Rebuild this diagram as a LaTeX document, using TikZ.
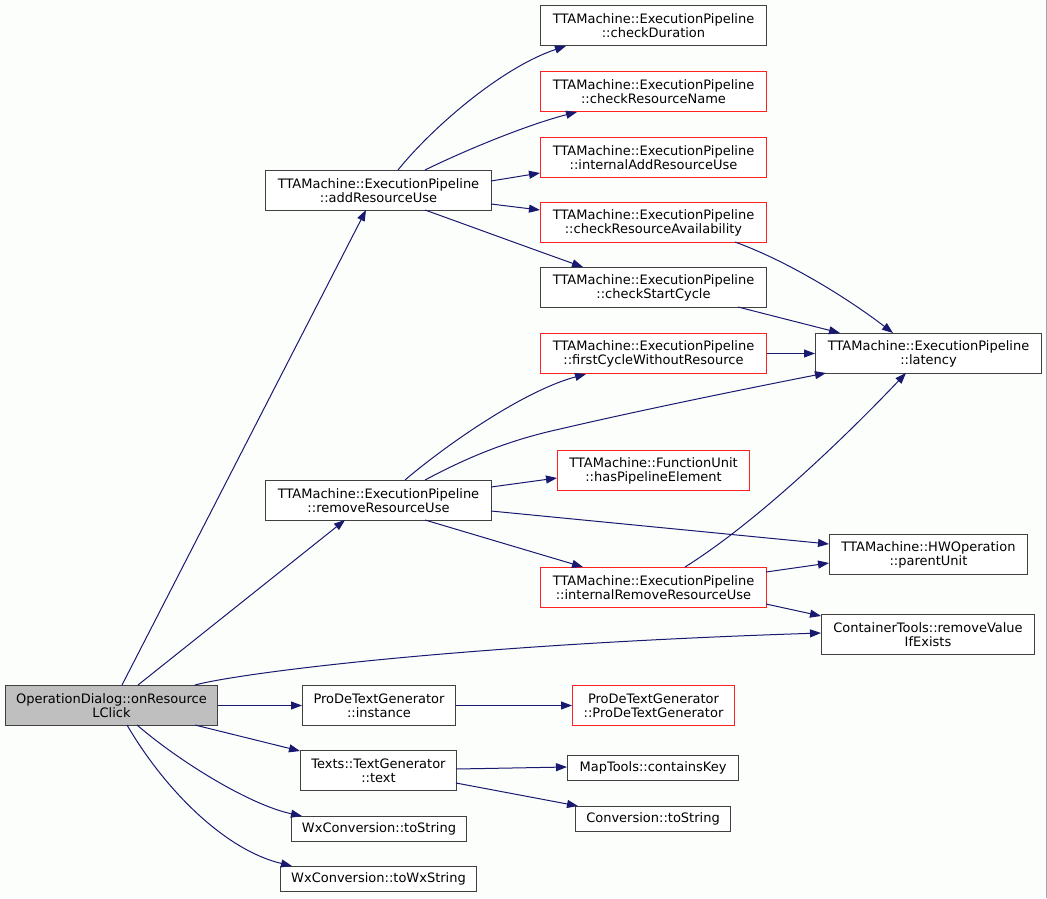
\documentclass[tikz,border=0pt]{standalone}
\usepackage{fontspec}
\setmainfont{DejaVu Sans}
\usetikzlibrary{arrows.meta,calc}
\definecolor{edgec}{HTML}{191970}
\definecolor{boxc}{HTML}{404040}
\definecolor{redc}{HTML}{FF2020}
\definecolor{odfill}{HTML}{BFBFBF}
\definecolor{bgc}{HTML}{FCFEFC}
\definecolor{framec}{HTML}{A8A8A8}
\begin{document}
\begin{tikzpicture}[x=1pt,y=-1pt,
  box/.style={draw=boxc,line width=1pt,fill=white,inner sep=0pt,anchor=north west,align=center,minimum height=40pt,
    font=\fontsize{13}{14}\selectfont},
  rbox/.style={box,draw=redc},
  call/.style={draw=edgec,line width=1pt,-{Triangle[length=11pt,width=8pt]},fill=none}]
\useasboundingbox (0,0) rectangle (1047,898);
\fill[bgc] (0,0) rectangle (1047,898);
\draw[framec,line width=1pt] (1046.5,0) -- (1046.5,898);
% nodes
\node[box,fill=odfill,minimum width=212pt] (OD) at (5,685) {OperationDialog::onResource\\LClick};
\node[box,minimum width=226pt] (AR) at (265,170) {TTAMachine::ExecutionPipeline\\::addResourceUse};
\node[box,minimum width=226pt] (RR) at (265,480) {TTAMachine::ExecutionPipeline\\::removeResourceUse};
\node[box,minimum width=226pt] (CD) at (540,5) {TTAMachine::ExecutionPipeline\\::checkDuration};
\node[rbox,minimum width=226pt] (CRN) at (540,71) {TTAMachine::ExecutionPipeline\\::checkResourceName};
\node[rbox,minimum width=226pt] (IA) at (540,137) {TTAMachine::ExecutionPipeline\\::internalAddResourceUse};
\node[rbox,minimum width=226pt] (CA) at (540,202) {TTAMachine::ExecutionPipeline\\::checkResourceAvailability};
\node[box,minimum width=226pt] (CS) at (540,267) {TTAMachine::ExecutionPipeline\\::checkStartCycle};
\node[rbox,minimum width=226pt] (FC) at (540,333) {TTAMachine::ExecutionPipeline\\::firstCycleWithoutResource};
\node[box,minimum width=226pt] (LA) at (815,333) {TTAMachine::ExecutionPipeline\\::latency};
\node[rbox,minimum width=192pt] (HP) at (557,450) {TTAMachine::FunctionUnit\\::hasPipelineElement};
\node[box,minimum width=198pt] (PU) at (829,534) {TTAMachine::HWOperation\\::parentUnit};
\node[rbox,minimum width=226pt] (IR) at (540,567) {TTAMachine::ExecutionPipeline\\::internalRemoveResourceUse};
\node[box,minimum width=213pt] (CT) at (821,614) {ContainerTools::removeValue\\IfExists};
\node[box,minimum width=153pt] (PI) at (302,685) {ProDeTextGenerator\\::instance};
\node[rbox,minimum width=162pt] (PC) at (572,685) {ProDeTextGenerator\\::ProDeTextGenerator};
\node[box,minimum width=156pt] (TT) at (300,750) {Texts::TextGenerator\\::text};
\node[box,minimum width=171pt,minimum height=25pt] (MT) at (567,755) {MapTools::containsKey};
\node[box,minimum width=155pt,minimum height=25pt] (CV) at (575,806) {Conversion::toString};
\node[box,minimum width=175pt,minimum height=25pt] (WS) at (291,816) {WxConversion::toString};
\node[box,minimum width=196pt,minimum height=25pt] (WW) at (280,866) {WxConversion::toWxString};
% edges from OD
\draw[call] ($(OD.north west)+(117,0)$) -- ($(AR.north west)+(101,40)$);
\draw[call] ($(OD.north west)+(133,0)$) -- ($(RR.north west)+(80,40)$);
\draw[call] ($(OD.north west)+(190,0)$) .. controls (235,674) and (450,645) .. ($(CT.north west)+(0,19)$);
\draw[call] (OD.east) -- (PI.west);
\draw[call] ($(OD.north west)+(190,40)$) -- ($(TT.north west)+(0,1)$);
\draw[call] ($(OD.north west)+(132,40)$) .. controls (180,762) and (250,805) .. ($(WS.north west)+(11,0)$);
\draw[call] ($(OD.north west)+(122,40)$) .. controls (165,790) and (225,850) .. ($(WW.north west)+(12,0)$);
% edges from addResourceUse
\draw[call] ($(AR.north west)+(133,0)$) .. controls (430,130) and (500,68) .. ($(CD.north west)+(26,41)$);
\draw[call] ($(AR.north west)+(160,0)$) .. controls (470,148) and (530,124) .. ($(CRN.north west)+(37,41)$);
\draw[call] ($(AR.north west)+(226,11)$) -- ($(IA.north west)+(0,36)$);
\draw[call] ($(AR.north west)+(226,34)$) -- ($(CA.north west)+(0,8)$);
\draw[call] ($(AR.north west)+(160,40)$) .. controls (475,228) and (535,250) .. ($(CS.north west)+(43,0)$);
% to latency
\draw[call] ($(CA.north west)+(195,40)$) .. controls (790,262) and (850,300) .. ($(LA.north west)+(78,0)$);
\draw[call] ($(CS.north west)+(198,40)$) -- ($(LA.north west)+(25,0)$);
\draw[call] (FC.east) -- (LA.west);
% edges from removeResourceUse
\draw[call] ($(RR.north west)+(140,0)$) .. controls (440,450) and (520,392) .. ($(FC.north west)+(46,41)$);
\draw[call] ($(RR.north west)+(160,0)$) .. controls (470,456) and (510,440) .. (560,429) .. controls (650,408) and (760,386) .. ($(LA.north west)+(11,40)$);
\draw[call] ($(RR.north west)+(226,7)$) -- ($(HP.north west)+(0,28)$);
\draw[call] ($(RR.north west)+(226,31)$) -- ($(PU.north west)+(0,10)$);
\draw[call] ($(RR.north west)+(160,40)$) -- ($(IR.north west)+(43,0)$);
% from internalRemoveResourceUse
\draw[call] ($(IR.north west)+(145,0)$) .. controls (760,520) and (850,432) .. ($(LA.north west)+(91,40)$);
\draw[call] ($(IR.north west)+(226,5)$) -- ($(PU.north west)+(0,29)$);
\draw[call] ($(IR.north west)+(226,37)$) -- ($(CT.north west)+(0,2)$);
% others
\draw[call] (PI.east) -- (PC.west);
\draw[call] ($(TT.north west)+(156,19)$) -- ($(MT.north west)+(0,12)$);
\draw[call] ($(TT.north west)+(156,33)$) -- ($(CV.north west)+(3,0)$);
\end{tikzpicture}
\end{document}
